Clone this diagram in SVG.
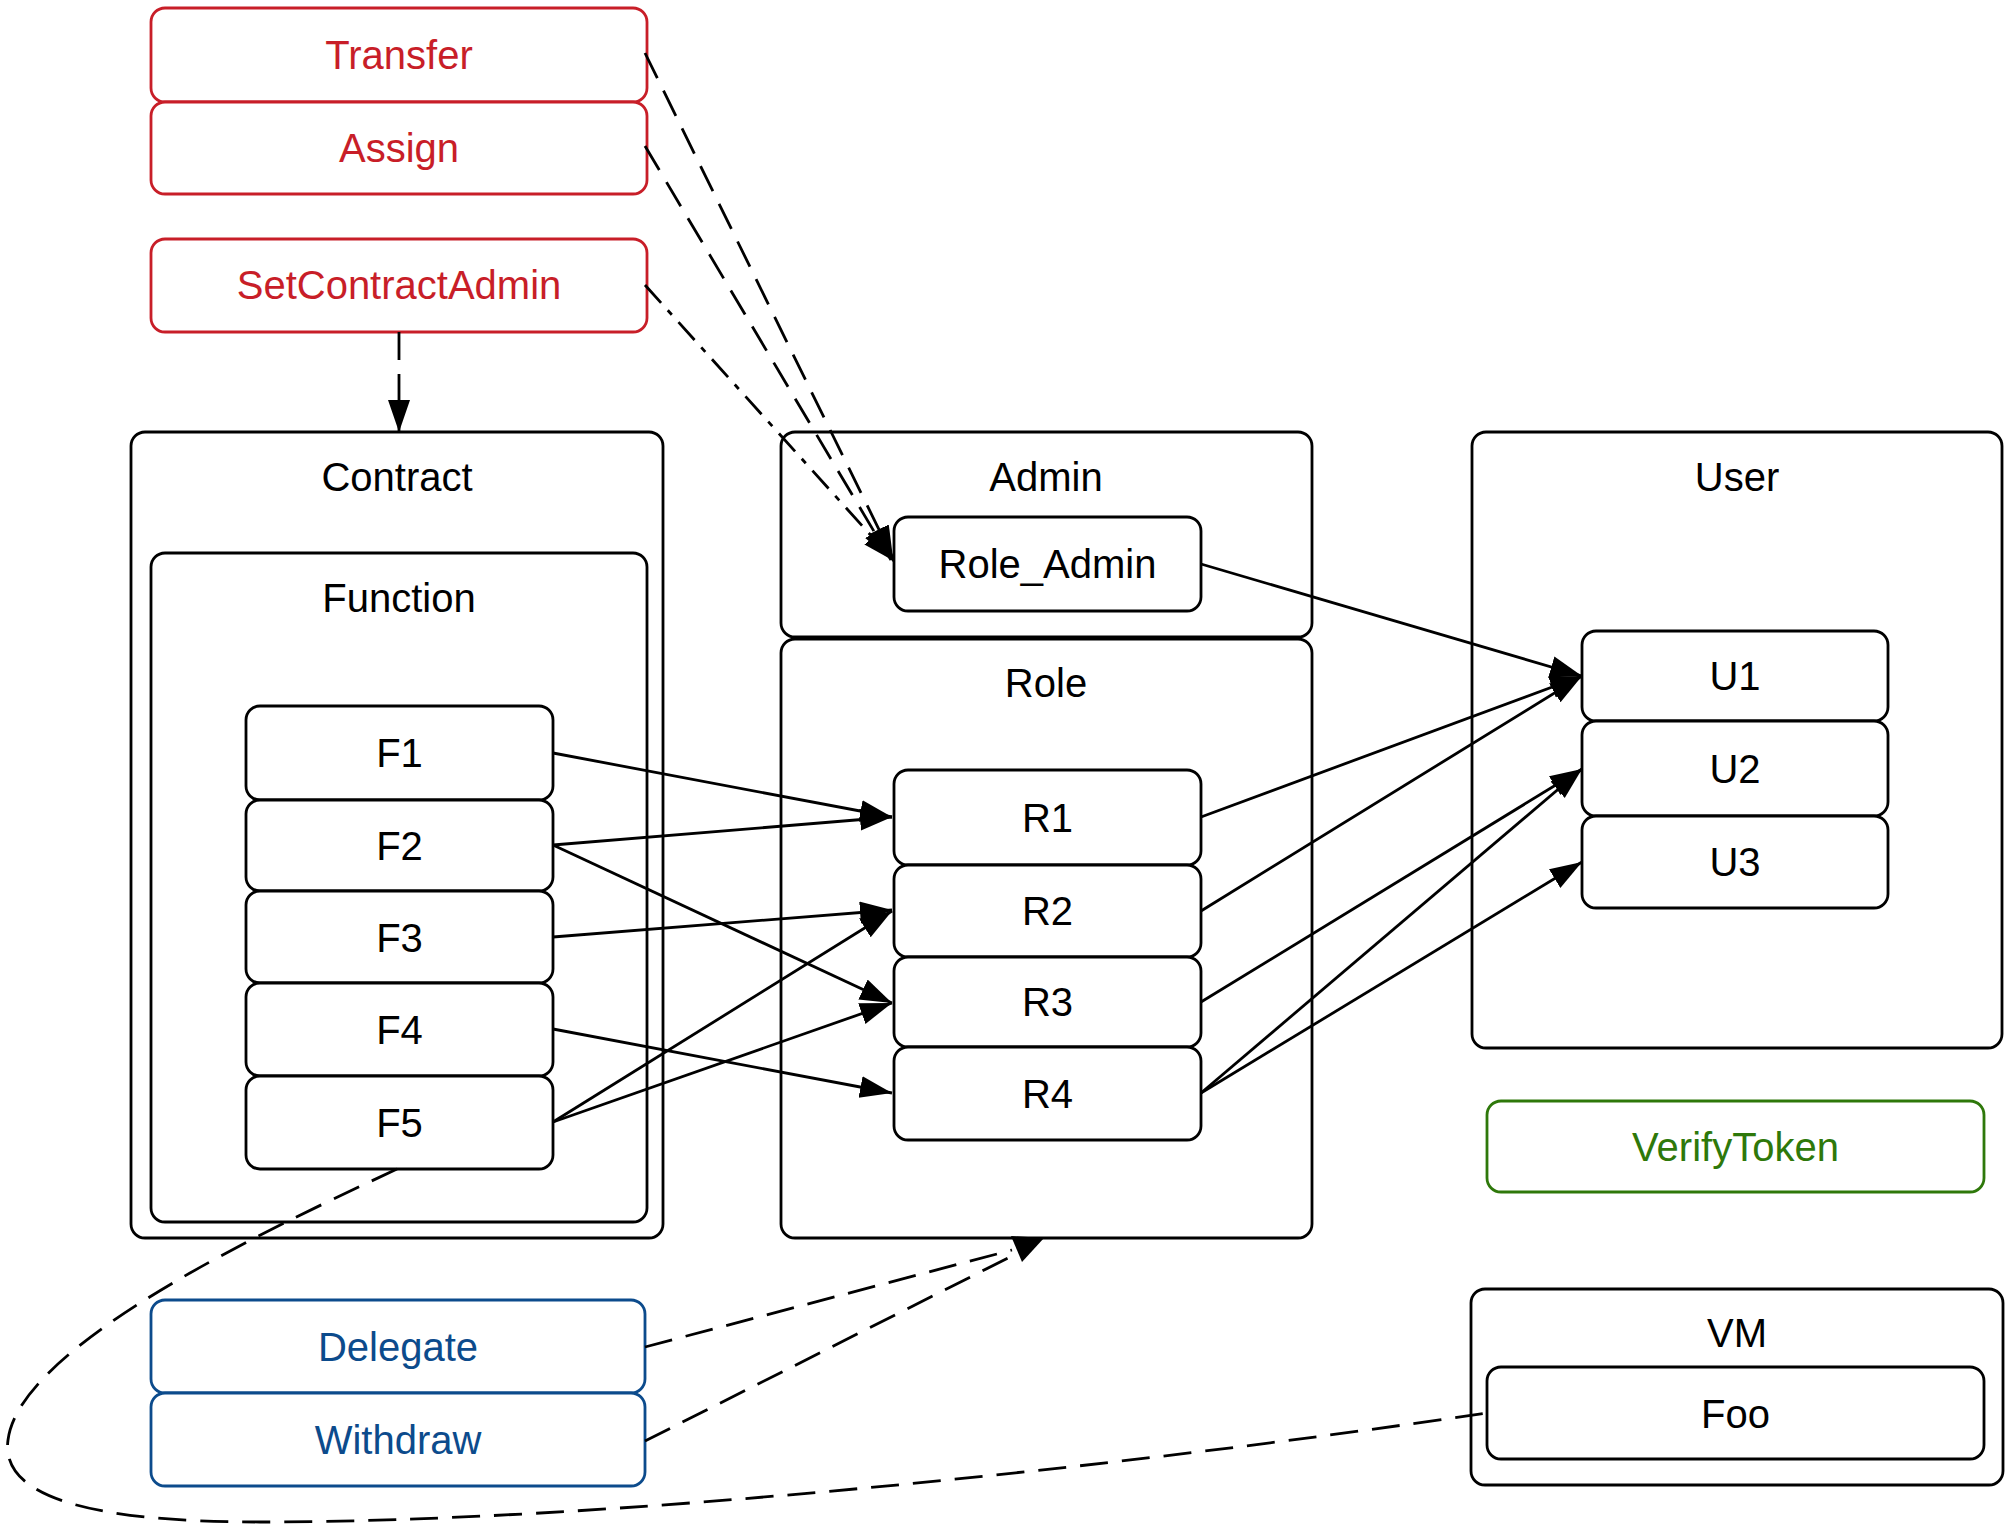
<svg xmlns="http://www.w3.org/2000/svg" width="2008" height="1526" viewBox="0 0 2008 1526">
<defs>
<style>
text{font-family:"Liberation Sans",Arial,Helvetica,sans-serif;font-size:40px;text-anchor:middle;fill:#000}
.cl{fill:none;stroke:#000;stroke-width:2.8}
.nd{fill:#fff;stroke:#000;stroke-width:2.8}
.red rect{stroke:#c81e28}
.red text{fill:#c81e28}
.blue rect{stroke:#0c4b8c}
.blue text{fill:#0c4b8c}
.green rect{stroke:#2e780a}
.green text{fill:#2e780a}
.e{fill:none;stroke:#000;stroke-width:2.8}
.d{stroke-dasharray:28,14}
.dd{stroke-dasharray:24,10,6,10}
</style>
<marker id="ah" markerUnits="userSpaceOnUse" markerWidth="34" markerHeight="24" refX="32" refY="11" orient="auto" viewBox="0 0 34 24">
<path d="M0,0 L32,11 L0,22 z" fill="#000"/>
</marker>
</defs>
<rect width="2008" height="1526" fill="#fff"/>

<g id="cluster_contract"><rect class="cl" x="131" y="432" width="532" height="806" rx="14"/><text x="397" y="491">Contract</text></g>
<g id="cluster_function"><rect class="cl" x="151" y="553" width="496" height="669" rx="14"/><text x="399" y="612">Function</text></g>
<g id="cluster_admin"><rect class="cl" x="781" y="432" width="531" height="205" rx="14"/><text x="1046" y="491">Admin</text></g>
<g id="cluster_role"><rect class="cl" x="781" y="639" width="531" height="599" rx="14"/><text x="1046" y="697">Role</text></g>
<g id="cluster_user"><rect class="cl" x="1472" y="432" width="530" height="616" rx="14"/><text x="1737" y="491">User</text></g>
<g id="cluster_vm"><rect class="cl" x="1471" y="1289" width="532" height="196" rx="14"/><text x="1737" y="1347">VM</text></g>

<g id="Transfer" class="red"><rect class="nd" x="151" y="8" width="496" height="94" rx="14"/><text x="399" y="69">Transfer</text></g>
<g id="Assign" class="red"><rect class="nd" x="151" y="102" width="496" height="92" rx="14"/><text x="399" y="162">Assign</text></g>
<g id="SetContractAdmin" class="red"><rect class="nd" x="151" y="239" width="496" height="93" rx="14"/><text x="399" y="299">SetContractAdmin</text></g>

<g id="F1"><rect class="nd" x="246" y="706" width="307" height="94" rx="14"/><text x="399.5" y="767">F1</text></g>
<g id="F2"><rect class="nd" x="246" y="800" width="307" height="91" rx="14"/><text x="399.5" y="860">F2</text></g>
<g id="F3"><rect class="nd" x="246" y="891" width="307" height="92" rx="14"/><text x="399.5" y="952">F3</text></g>
<g id="F4"><rect class="nd" x="246" y="983" width="307" height="93" rx="14"/><text x="399.5" y="1044">F4</text></g>
<g id="F5"><rect class="nd" x="246" y="1076" width="307" height="93" rx="14"/><text x="399.5" y="1137">F5</text></g>

<g id="Role_Admin"><rect class="nd" x="894" y="517" width="307" height="94" rx="14"/><text x="1047.5" y="578">Role_Admin</text></g>
<g id="R1"><rect class="nd" x="894" y="770" width="307" height="95" rx="14"/><text x="1047.5" y="832">R1</text></g>
<g id="R2"><rect class="nd" x="894" y="865" width="307" height="92" rx="14"/><text x="1047.5" y="925">R2</text></g>
<g id="R3"><rect class="nd" x="894" y="957" width="307" height="90" rx="14"/><text x="1047.5" y="1016">R3</text></g>
<g id="R4"><rect class="nd" x="894" y="1047" width="307" height="93" rx="14"/><text x="1047.5" y="1108">R4</text></g>

<g id="U1"><rect class="nd" x="1582" y="631" width="306" height="90" rx="14"/><text x="1735" y="690">U1</text></g>
<g id="U2"><rect class="nd" x="1582" y="721" width="306" height="95" rx="14"/><text x="1735" y="783">U2</text></g>
<g id="U3"><rect class="nd" x="1582" y="816" width="306" height="92" rx="14"/><text x="1735" y="876">U3</text></g>

<g id="VerifyToken" class="green"><rect class="nd" x="1487" y="1101" width="497" height="91" rx="14"/><text x="1735.5" y="1161">VerifyToken</text></g>
<g id="Foo"><rect class="nd" x="1487" y="1367" width="497" height="92" rx="14"/><text x="1735.5" y="1428">Foo</text></g>

<g id="Delegate" class="blue"><rect class="nd" x="151" y="1300" width="494" height="93" rx="14"/><text x="398" y="1361">Delegate</text></g>
<g id="Withdraw" class="blue"><rect class="nd" x="151" y="1393" width="494" height="93" rx="14"/><text x="398" y="1454">Withdraw</text></g>

<g id="connectors">
<line class="e d" x1="645" y1="53" x2="893" y2="558" marker-end="url(#ah)"/>
<line class="e d" x1="645" y1="146" x2="891" y2="560" marker-end="url(#ah)"/>
<line class="e dd" x1="645" y1="285" x2="894" y2="561" marker-end="url(#ah)"/>
<line class="e d" x1="399" y1="332" x2="399" y2="432" marker-end="url(#ah)"/>

<line class="e" x1="553" y1="753" x2="892" y2="817" marker-end="url(#ah)"/>
<line class="e" x1="553" y1="845" x2="892" y2="817" marker-end="url(#ah)"/>
<line class="e" x1="553" y1="845" x2="892" y2="1003" marker-end="url(#ah)"/>
<line class="e" x1="553" y1="937" x2="892" y2="910" marker-end="url(#ah)"/>
<line class="e" x1="553" y1="1029" x2="892" y2="1093" marker-end="url(#ah)"/>
<line class="e" x1="553" y1="1122" x2="892" y2="911" marker-end="url(#ah)"/>
<line class="e" x1="553" y1="1122" x2="892" y2="1003" marker-end="url(#ah)"/>

<line class="e" x1="1201" y1="564" x2="1582" y2="676" marker-end="url(#ah)"/>
<line class="e" x1="1201" y1="817" x2="1582" y2="676" marker-end="url(#ah)"/>
<line class="e" x1="1201" y1="911" x2="1582" y2="676" marker-end="url(#ah)"/>
<line class="e" x1="1201" y1="1002" x2="1582" y2="769" marker-end="url(#ah)"/>
<line class="e" x1="1201" y1="1093" x2="1582" y2="769" marker-end="url(#ah)"/>
<line class="e" x1="1201" y1="1093" x2="1582" y2="862" marker-end="url(#ah)"/>

<line class="e d" x1="645" y1="1347" x2="1012" y2="1250"/>
<line class="e d" x1="645" y1="1441" x2="1012" y2="1256"/>
<polygon points="1011,1236 1044,1238 1022,1262" fill="#000"/>

<path class="e d" d="M397,1169 C300,1215 20,1340 8,1440 C0,1500 100,1522 260,1522 C600,1522 1100,1470 1487,1413"/>
</g>
</svg>
